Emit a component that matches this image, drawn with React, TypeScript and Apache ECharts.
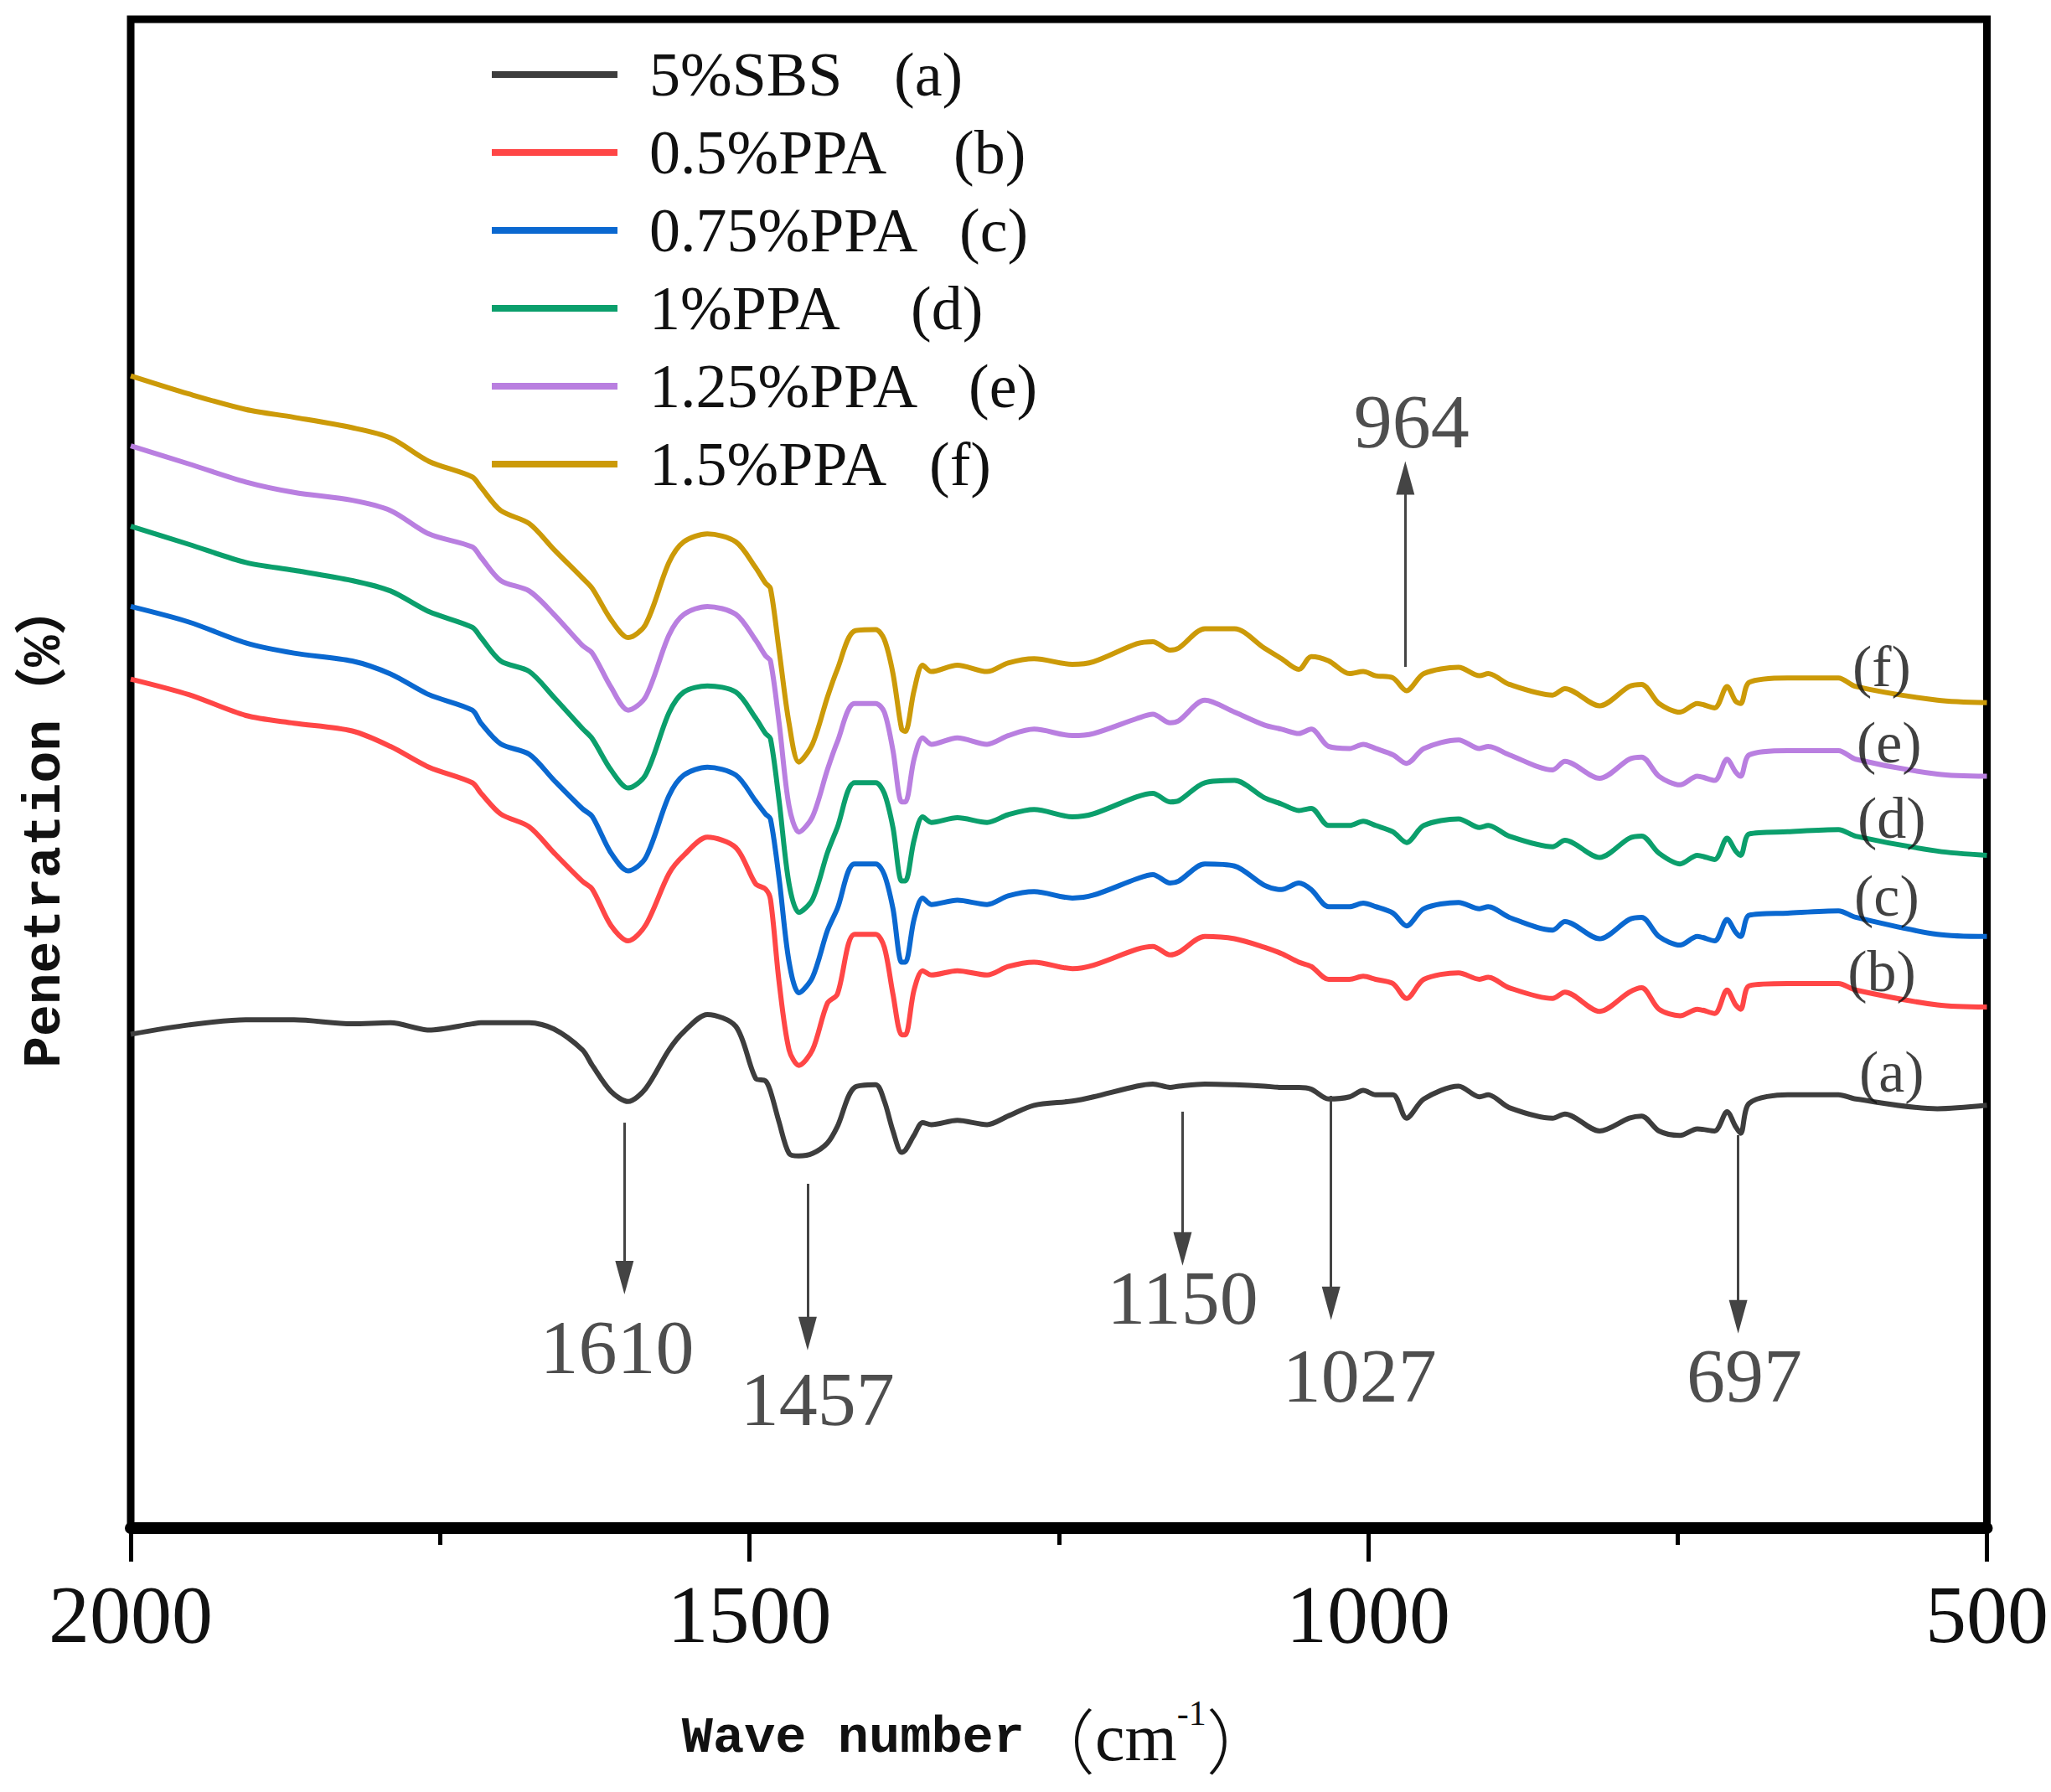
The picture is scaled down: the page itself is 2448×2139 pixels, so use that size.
import React, { useEffect, useRef } from 'react';
import * as echarts from 'echarts';

// Wave number positions (cm-1) shared by all spectra
const wavenumbers = [
  2000, 1953, 1907, 1868, 1821, 1790, 1759, 1724, 1717, 1701, 1678, 1658, 1635, 1627, 1612, 1598, 1584, 1565, 1553, 1534, 1511, 1495, 1487, 1483, 1476, 1468, 1460, 1449, 1437,
  1429, 1415, 1398, 1391, 1384, 1377, 1374, 1367, 1360, 1353, 1332, 1308, 1291, 1270, 1239, 1222, 1187, 1174, 1160, 1153, 1132, 1108, 1084, 1070, 1056, 1046, 1032, 1015, 1004, 994, 980,
  969, 955, 927, 910, 903, 886, 851, 841, 813, 789, 779, 765, 748, 734, 720, 710, 703, 699, 692, 661, 620, 606, 540, 500,
];

// (a) 5%SBS
const sbs5 = [
  32.73, 33.35, 33.69, 33.69, 33.42, 33.49, 33.01, 33.42, 33.49, 33.49, 33.49, 33.08, 31.7, 30.67, 28.95, 28.27, 29.12, 31.7, 32.9, 34.04, 33.25, 29.81, 29.64, 28.95, 26.89, 24.83, 24.66, 24.83, 25.52,
  26.6, 29.21, 29.38, 28.3, 26.32, 24.9, 25.04, 26.03, 26.88, 26.74, 27.02, 26.74, 27.31, 28.02, 28.3, 28.58, 29.29, 29.43, 29.21, 29.29, 29.43, 29.38, 29.29, 29.21, 29.21, 29.09, 28.44, 28.58, 29.01, 28.72, 28.72,
  27.17, 28.44, 29.29, 28.58, 28.72, 27.87, 27.17, 27.45, 26.32, 27.17, 27.31, 26.32, 26.03, 26.46, 26.32, 27.59, 26.6, 26.17, 28.16, 28.72, 28.72, 28.44, 27.79, 28.02,
];
// (b) 0.5%PPA
const ppa05 = [
  56.27, 55.24, 53.86, 53.35, 52.83, 51.8, 50.43, 49.4, 48.71, 47.33, 46.48, 44.76, 42.87, 42.35, 39.95, 38.92, 39.95, 43.38, 44.59, 45.79, 45.1, 42.7, 42.35, 41.67, 36.17, 31.7, 30.67, 31.7, 34.79,
  35.38, 39.35, 39.35, 38.5, 35.38, 32.69, 32.69, 35.66, 36.94, 36.66, 36.94, 36.66, 37.22, 37.51, 37.08, 37.31, 38.36, 38.55, 37.99, 38.16, 39.21, 39.06, 38.5, 38.07, 37.51, 37.22, 36.37, 36.37, 36.57, 36.37, 36.09,
  35.1, 36.37, 36.8, 36.37, 36.51, 35.81, 35.1, 35.52, 34.25, 35.52, 35.81, 34.39, 33.96, 34.39, 34.11, 35.66, 34.67, 34.39, 35.95, 36.09, 36.09, 35.66, 34.67, 34.53,
];
// (c) 0.75%PPA
const ppa075 = [
  61.08, 60.05, 58.67, 57.99, 57.47, 56.61, 55.24, 54.21, 53.35, 51.97, 51.29, 49.57, 47.68, 47.16, 44.76, 43.56, 44.41, 48.54, 49.91, 50.43, 49.91, 48.19, 47.33, 46.99, 43.04, 37.54, 35.48, 36.51, 39.6,
  41.05, 44.02, 44.02, 43.31, 41.05, 37.51, 37.51, 40.34, 41.76, 41.33, 41.61, 41.33, 41.9, 42.18, 41.76, 41.95, 43.03, 43.31, 42.75, 42.89, 44.02, 43.88, 42.61, 42.32, 42.75, 42.32, 41.19, 41.19, 41.42, 41.19, 40.76,
  39.91, 41.05, 41.47, 41.05, 41.19, 40.48, 39.63, 40.2, 39.06, 40.34, 40.48, 39.21, 38.64, 39.21, 38.92, 40.34, 39.49, 39.21, 40.62, 40.76, 40.91, 40.48, 39.35, 39.21,
];
// (d) 1%PPA
const ppa1 = [
  66.4, 65.2, 64.0, 63.48, 62.8, 62.11, 60.74, 59.7, 59.02, 57.47, 56.78, 55.07, 53.0, 52.32, 50.26, 49.05, 49.91, 54.04, 55.41, 55.82, 55.41, 53.69, 52.66, 52.32, 48.19, 42.7, 40.81, 41.67, 44.76,
  46.43, 49.4, 49.4, 48.7, 46.43, 42.89, 42.89, 45.58, 47.14, 46.77, 47.08, 46.77, 47.28, 47.62, 47.14, 47.34, 48.47, 48.7, 48.13, 48.21, 49.4, 49.55, 48.41, 47.99, 47.56, 47.7, 46.57, 46.57, 46.85, 46.57, 46.15,
  45.44, 46.57, 47.0, 46.43, 46.57, 45.86, 45.16, 45.58, 44.45, 45.72, 45.86, 44.73, 44.02, 44.59, 44.31, 45.72, 44.87, 44.59, 46.01, 46.15, 46.29, 45.86, 44.87, 44.59,
];
// (e) 1.25%PPA
const ppa125 = [
  71.73, 70.53, 69.33, 68.64, 68.12, 67.44, 65.89, 65.03, 64.34, 62.8, 62.11, 60.56, 58.5, 57.99, 55.75, 54.21, 55.07, 59.19, 60.56, 61.08, 60.56, 58.85, 57.81, 57.47, 53.35, 47.85, 46.13, 47.16, 50.26,
  52.1, 54.65, 54.65, 54.08, 51.53, 48.13, 48.13, 50.96, 52.38, 51.95, 52.38, 51.95, 52.52, 52.95, 52.52, 52.66, 53.65, 53.94, 53.37, 53.51, 54.87, 54.08, 53.23, 52.95, 52.66, 52.95, 51.81, 51.67, 51.95, 51.67, 51.25,
  50.68, 51.67, 52.24, 51.67, 51.81, 51.25, 50.25, 50.82, 49.69, 50.96, 51.1, 49.83, 49.26, 49.83, 49.55, 50.96, 50.11, 49.83, 51.25, 51.53, 51.53, 50.96, 49.97, 49.83,
];
// (f) 1.5%PPA
const ppa15 = [
  76.37, 75.17, 74.14, 73.62, 72.93, 72.25, 70.7, 69.67, 68.98, 67.44, 66.58, 64.86, 62.97, 62.28, 60.22, 59.02, 59.88, 64.0, 65.37, 65.89, 65.37, 63.66, 62.63, 62.28, 58.16, 53.35, 50.77, 51.97, 55.07,
  56.91, 59.46, 59.55, 58.89, 56.63, 52.95, 52.8, 55.5, 57.19, 56.77, 57.19, 56.77, 57.34, 57.62, 57.25, 57.42, 58.61, 58.75, 58.19, 58.33, 59.6, 59.6, 58.33, 57.62, 56.91, 57.76, 57.48, 56.63, 56.77, 56.49, 56.35,
  55.5, 56.63, 57.05, 56.49, 56.63, 55.92, 55.21, 55.64, 54.5, 55.78, 55.92, 54.65, 54.08, 54.65, 54.36, 55.78, 54.79, 54.65, 56.06, 56.35, 56.35, 55.78, 54.87, 54.7,
];

const seriesValues = [sbs5, ppa05, ppa075, ppa1, ppa125, ppa15];
const seriesNames = ['5%SBS', '0.5%PPA', '0.75%PPA', '1%PPA', '1.25%PPA', '1.5%PPA'];
const seriesTags = ['(a)', '(b)', '(c)', '(d)', '(e)', '(f)'];
const seriesColors = ['#3d3d3d', '#ff4646', '#0a68d0', '#0b9f6c', '#b97fe0', '#cc9a08'];

// curve tags at the right end
const tagWn = [577, 585, 581, 577, 579, 585];
const tagV = [30.21, 36.87, 41.92, 47.08, 52.03, 57.08];

// peak annotations
const peakLabels = ['1610', '1457', '1150', '1027', '697', '964'];
const peakLabelWn = [1607, 1445, 1150, 1007, 696, 965];
const peakLabelV = [11.99, 8.55, 15.27, 10.11, 10.11, 73.35];
const arrowWn = [1601, 1453, 1150, 1030, 701, 970];
const arrowFromV = [26.87, 22.82, 27.6, 28.65, 26.04, 57.08];
const arrowToV = [16.6, 12.9, 18.5, 14.9, 14.0, 69.6];

const xTicks = { min: 500, max: 2000, interval: 500 };

// widths of the legend name part (before the tag), px
const legendNameWidths = [292, 363, 370, 312, 381, 334];

const SERIF = "'Liberation Serif', 'Times New Roman', serif";
const MONO = "'Liberation Mono', 'DejaVu Sans Mono', 'Noto Sans CJK SC', monospace";
const CJK = "'Noto Sans CJK SC', sans-serif";

export default function App() {
  const ref = useRef<HTMLDivElement>(null);

  useEffect(() => {
    if (!ref.current) return;
    const chart = echarts.init(ref.current, undefined, { renderer: 'svg' });

    const lineSeries = seriesValues.map((vals, i) => ({
      type: 'line',
      name: seriesNames[i],
      data: wavenumbers.map((w, j) => [w, vals[j]]),
      symbol: 'none',
      showSymbol: false,
      smooth: 0.3,
      lineStyle: { color: seriesColors[i], width: 6 },
      itemStyle: { color: seriesColors[i] },
      z: 3,
    }));

    const rich: any = {
      g: { width: 33, fontSize: 74, lineHeight: 80 },
      t: { fontSize: 74, lineHeight: 80, fontFamily: SERIF, color: '#111' },
    };
    legendNameWidths.forEach((w, i) => {
      rich['n' + i] = { width: w, fontSize: 74, lineHeight: 80, fontFamily: SERIF, color: '#111' };
    });

    const option: any = {
      animation: false,
      backgroundColor: '#ffffff',
      grid: {
        left: 156,
        right: 75,
        top: 23,
        bottom: 315,
        show: true,
        borderColor: '#000',
        borderWidth: 9,
        backgroundColor: 'transparent',
      },
      legend: {
        data: seriesNames,
        orient: 'vertical',
        left: 582,
        top: 44,
        icon: 'rect',
        itemWidth: 150,
        itemHeight: 8,
        itemGap: 13,
        textStyle: { fontSize: 74, fontFamily: SERIF, color: '#111', lineHeight: 80, rich },
        formatter: (name: string) => {
          const i = seriesNames.indexOf(name);
          return `{g| }{n${i}|${name}}{t|${seriesTags[i]}}`;
        },
        selectedMode: false,
      },
      graphic: [
        {
          type: 'text',
          x: 54,
          y: 985,
          rotation: Math.PI / 2,
          silent: true,
          style: {
            text: 'Penetration（%）',
            align: 'center',
            verticalAlign: 'middle',
            font: `bold 63px ${MONO}`,
            fill: '#111',
          },
        },
      ],
      xAxis: {
        type: 'value',
        min: xTicks.min,
        max: xTicks.max,
        interval: xTicks.interval,
        inverse: true,
        name: '{a|Wave number}{p|（}{c|cm}{s|-1}{p|）}',
        nameLocation: 'middle',
        nameGap: 200,
        nameTextStyle: {
          padding: [0, 190, 0, 0],
          rich: {
            a: { fontFamily: MONO, fontSize: 62, fontWeight: 'bold', color: '#111', lineHeight: 100 },
            p: { fontFamily: CJK, fontSize: 84, fontWeight: 300, color: '#111', lineHeight: 100 },
            c: { fontFamily: SERIF, fontSize: 80, color: '#111', lineHeight: 100 },
            s: { fontFamily: SERIF, fontSize: 42, color: '#111', verticalAlign: 'top', lineHeight: 60 },
          },
        },
        axisLine: { show: true, lineStyle: { color: '#000', width: 14 } },
        axisTick: { show: true, length: 40, lineStyle: { color: '#000', width: 5 } },
        minorTick: { show: true, splitNumber: 2, length: 20, lineStyle: { color: '#000', width: 5 } },
        axisLabel: {
          fontSize: 98,
          fontFamily: SERIF,
          color: '#111',
          margin: 54,
          formatter: (v: number) => String(v),
        },
        splitLine: { show: false },
        minorSplitLine: { show: false },
      },
      yAxis: {
        type: 'value',
        min: 0,
        max: 100,
        axisLine: { show: false },
        axisTick: { show: false },
        axisLabel: { show: false },
        splitLine: { show: false },
      },
      series: [
        ...lineSeries,
        {
          type: 'scatter',
          name: 'tags',
          silent: true,
          symbolSize: 1,
          itemStyle: { color: 'rgba(0,0,0,0)' },
          data: seriesTags.map((t, i) => ({ value: [tagWn[i], tagV[i]], label: { formatter: t } })),
          label: { show: true, position: 'inside', fontSize: 70, fontFamily: SERIF, color: '#111' },
          z: 5,
        },
        {
          type: 'scatter',
          name: 'peaks',
          silent: true,
          symbolSize: 1,
          itemStyle: { color: 'rgba(0,0,0,0)' },
          data: peakLabels.map((t, i) => ({ value: [peakLabelWn[i], peakLabelV[i]], label: { formatter: t } })),
          label: { show: true, position: 'inside', fontSize: 92, fontFamily: SERIF, color: '#222' },
          z: 5,
          markLine: {
            silent: true,
            symbol: ['none', 'triangle'],
            symbolSize: 30,
            label: { show: false },
            lineStyle: { color: '#444', width: 3, type: 'solid' },
            data: arrowWn.map((w, i) => [
              { coord: [w, arrowFromV[i]], symbol: 'none' },
              { coord: [w, arrowToV[i]], symbol: 'triangle', symbolSize: [22, 40], itemStyle: { color: '#111' } },
            ]),
          },
        },
      ],
    };

    chart.setOption(option);
    return () => chart.dispose();
  }, []);

  return (
    <div
      ref={ref}
      style={{ position: 'fixed', left: 0, top: 0, width: 2448, height: 2139, background: '#fff' }}
    />
  );
}
